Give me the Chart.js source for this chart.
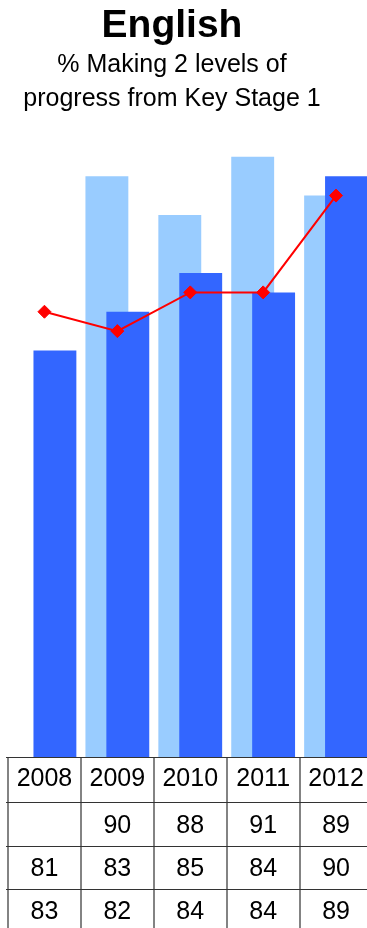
<!DOCTYPE html>
<html>
<head>
<meta charset="utf-8">
<title>English</title>
<script src="https://cdn.jsdelivr.net/npm/chart.js@4.4.1/dist/chart.umd.min.js"></script>
<style>
  html, body { margin: 0; padding: 0; overflow: hidden; background: #fff; }
  #page { position: relative; width: 367px; height: 928px; overflow: hidden; }
  #chart { position: absolute; left: 0; top: 0; }
  .ttl { position: absolute; left: 0; width: 344px; text-align: center; line-height: 1;
         font-family: 'Liberation Sans', Arial, sans-serif; color: #000; white-space: nowrap; }
  #t1 { top: 4px; font-size: 39px; font-weight: bold; }
  #t2 { top: 50.5px; font-size: 25px; }
  #t3 { top: 84.5px; font-size: 25px; }
</style>
</head>
<body>
<div id="page">
  <canvas id="chart" width="380" height="928"></canvas>
  <div class="ttl" id="t1">English</div>
  <div class="ttl" id="t2">% Making 2 levels of</div>
  <div class="ttl" id="t3">progress from Key Stage 1</div>
</div>
<script>
// Years and the three series shown in the chart and in the table under it
const years = ['2008', '2009', '2010', '2011', '2012'];
const lightSeries = [null, 90, 88, 91, 89];
const darkSeries = [81, 83, 85, 84, 90];
const lineSeries = [83, 82, 84, 84, 89];

const FONT = "'Liberation Sans', Arial, sans-serif";

// Draw datasets in index order: light bars, then dark bars over them, then the line
const layerOrder = {
  id: 'layerOrder',
  beforeDatasetsDraw(chart) {
    const ctx = chart.ctx;
    const area = chart.chartArea;
    chart.data.datasets.forEach((ds, i) => {
      const meta = chart.getDatasetMeta(i);
      if (!meta.visible) return;
      ctx.save();
      ctx.beginPath();
      ctx.rect(0, 0, chart.width, area.bottom);
      ctx.clip();
      meta.controller.draw();
      ctx.restore();
    });
    return false;
  }
};

// Data table under the plot, one column per category of the x scale
const dataTable = {
  id: 'dataTable',
  afterDraw(chart) {
    const ctx = chart.ctx;
    const x = chart.scales.x;
    const area = chart.chartArea;
    const colW = x.width / years.length;
    const rowLines = [area.bottom, area.bottom + 45, area.bottom + 89, area.bottom + 132, area.bottom + 175];
    const baselineShift = [6.5, 8.5, 8, 8];
    const rows = [years, lightSeries, darkSeries, lineSeries];

    ctx.save();
    // vertical rules at category boundaries
    ctx.strokeStyle = '#5a5a5a';
    ctx.lineWidth = 1.5;
    for (let i = 0; i <= years.length; i++) {
      const xp = Math.round(x.getPixelForValue(0) - colW / 2 + i * colW);
      ctx.beginPath();
      ctx.moveTo(xp, area.bottom);
      ctx.lineTo(xp, chart.height);
      ctx.stroke();
    }
    // horizontal rules, the first one is the category axis line
    ctx.strokeStyle = '#333333';
    ctx.lineWidth = 1;
    rowLines.slice(0, 4).forEach(y => {
      const yp = Math.round(y) + 0.5;
      ctx.beginPath();
      ctx.moveTo(area.left - 2, yp);
      ctx.lineTo(chart.width, yp);
      ctx.stroke();
    });
    // cell text
    ctx.fillStyle = '#000';
    ctx.font = '25px ' + FONT;
    ctx.textAlign = 'center';
    ctx.textBaseline = 'alphabetic';
    rows.forEach((row, r) => {
      const cy = (rowLines[r] + rowLines[r + 1]) / 2;
      row.forEach((v, i) => {
        if (v === null || v === undefined) return;
        ctx.fillText(String(v), x.getPixelForValue(i), cy + baselineShift[r]);
      });
    });
    ctx.restore();
  }
};

new Chart(document.getElementById('chart'), {
  data: {
    labels: years,
    datasets: [
      {
        type: 'bar',
        label: 'Series A',
        data: lightSeries,
        backgroundColor: '#99CCFF',
        borderWidth: 0,
        categoryPercentage: 0.574,
        barPercentage: 2.05
      },
      {
        type: 'bar',
        label: 'Series B',
        data: darkSeries,
        backgroundColor: '#3366FF',
        borderWidth: 0,
        categoryPercentage: 0.574,
        barPercentage: 2.05
      },
      {
        type: 'line',
        label: 'Series C',
        data: lineSeries,
        borderColor: '#FF0000',
        borderWidth: 2,
        tension: 0,
        pointStyle: 'rectRot',
        pointRadius: 6.5,
        pointBackgroundColor: '#FF0000',
        pointBorderColor: '#FF0000',
        pointBorderWidth: 1
      }
    ]
  },
  options: {
    responsive: false,
    animation: false,
    devicePixelRatio: 1,
    layout: { padding: { left: 8, right: 6, top: 137.5, bottom: 171 } },
    plugins: {
      legend: { display: false },
      tooltip: { enabled: false },
      title: { display: false }
    },
    scales: {
      x: { display: false, offset: true, grid: { display: false } },
      y: { display: false, min: 60, max: 92, grid: { display: false } }
    }
  },
  plugins: [layerOrder, dataTable]
});
</script>
</body>
</html>
